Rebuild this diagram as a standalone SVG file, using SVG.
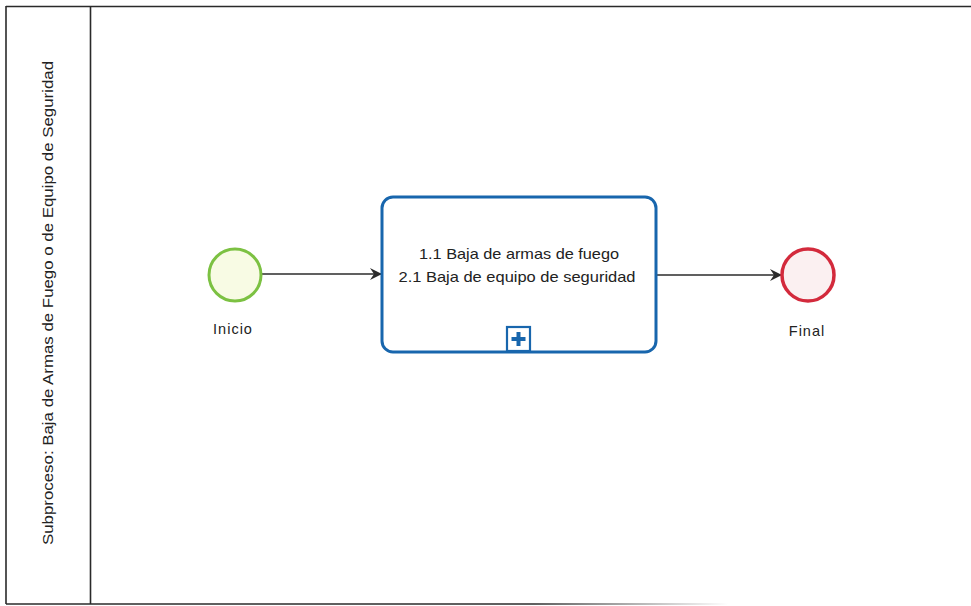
<svg xmlns="http://www.w3.org/2000/svg" width="971" height="606" viewBox="0 0 971 606">
  <style>
    .frame { stroke: #2a2a2a; stroke-width: 1.6; fill: none; }
    .lbl { font-family: "Liberation Sans", "DejaVu Sans", Arial, sans-serif; font-size: 14.5px; fill: #222; }
    .flow { stroke: #2b2b2b; stroke-width: 1.4; fill: none; marker-end: url(#arrow); }
  </style>
  <defs>
    <marker id="arrow" viewBox="0 0 12 12" refX="11" refY="6" markerWidth="12" markerHeight="12" markerUnits="userSpaceOnUse" orient="auto">
      <path d="M0,0 L12,6 L0,12 L4,6 Z" fill="#2b2b2b"/>
    </marker>
    <linearGradient id="bottomFade" x1="0" y1="0" x2="971" y2="0" gradientUnits="userSpaceOnUse">
      <stop offset="0" stop-color="#2a2a2a"/>
      <stop offset="0.55" stop-color="#2a2a2a"/>
      <stop offset="0.75" stop-color="#2a2a2a" stop-opacity="0"/>
    </linearGradient>
  </defs>

  <rect width="971" height="606" fill="#ffffff"/>

  <!-- pool / lane frame -->
  <g id="pool">
    <line class="frame" x1="6" y1="6.5" x2="971" y2="6.5"/>
    <line class="frame" x1="6" y1="6" x2="6" y2="604"/>
    <line class="frame" x1="90.5" y1="6" x2="90.5" y2="604"/>
    <line x1="6" y1="604" x2="971" y2="604" stroke="url(#bottomFade)" stroke-width="1.6"/>
    <text class="lbl" transform="translate(53,303) rotate(-90)" text-anchor="middle" textLength="484" lengthAdjust="spacingAndGlyphs">Subproceso: Baja de Armas de Fuego o de Equipo de Seguridad</text>
  </g>

  <!-- sequence flows -->
  <g id="connectors">
    <line class="flow" x1="262" y1="274" x2="381" y2="274"/>
    <line class="flow" x1="657" y1="275" x2="781" y2="275"/>
  </g>

  <!-- start event -->
  <g id="inicio">
    <circle cx="235" cy="275" r="26" fill="#f8fbe4" stroke="#7cc142" stroke-width="3"/>
    <text class="lbl" x="233" y="334" text-anchor="middle" letter-spacing="1">Inicio</text>
  </g>

  <!-- collapsed subprocess -->
  <g id="subproceso">
    <rect x="382" y="197" width="274" height="155" rx="11" ry="11" fill="#ffffff" stroke="#1866ad" stroke-width="3"/>
    <text class="lbl" x="519" y="259" text-anchor="middle" textLength="200" lengthAdjust="spacingAndGlyphs">1.1 Baja de armas de fuego</text>
    <text class="lbl" x="517" y="282" text-anchor="middle" textLength="237" lengthAdjust="spacingAndGlyphs">2.1 Baja de equipo de seguridad</text>
    <rect x="507" y="327" width="23" height="24" fill="#ffffff" stroke="#1866ad" stroke-width="2.2"/>
    <path d="M518.5,332 V346 M511.5,339 H525.5" stroke="#1866ad" stroke-width="4"/>
  </g>

  <!-- end event -->
  <g id="final">
    <circle cx="808" cy="275" r="26" fill="#fbf0f1" stroke="#d32a3c" stroke-width="3.5"/>
    <text class="lbl" x="807" y="336" text-anchor="middle" letter-spacing="1">Final</text>
  </g>
</svg>
